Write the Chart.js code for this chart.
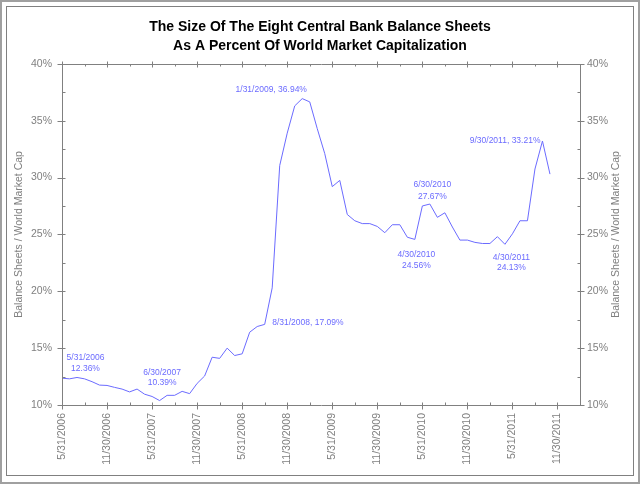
<!DOCTYPE html>
<html><head><meta charset="utf-8">
<script src="https://cdn.jsdelivr.net/npm/chart.js@4/dist/chart.umd.min.js"></script>
<style>html,body{margin:0;padding:0;background:#fff}canvas{display:block}</style>
</head><body>
<canvas id="c" width="640" height="484"></canvas>
<script>
// ---- data ----
const titleLines = ['The Size Of The Eight Central Bank Balance Sheets', 'As A Percent Of World Market Capitalization'];
const axisTitle = 'Balance Sheets / World Market Cap';
// month-end dates of each observation (5/31/2006 .. 10/31/2011)
const dates = [
 '5/31/2006','6/30/2006','7/31/2006','8/31/2006','9/30/2006','10/31/2006','11/30/2006','12/31/2006',
 '1/31/2007','2/28/2007','3/31/2007','4/30/2007','5/31/2007','6/30/2007','7/31/2007','8/31/2007',
 '9/30/2007','10/31/2007','11/30/2007','12/31/2007','1/31/2008','2/29/2008','3/31/2008','4/30/2008',
 '5/31/2008','6/30/2008','7/31/2008','8/31/2008','9/30/2008','10/31/2008','11/30/2008','12/31/2008',
 '1/31/2009','2/28/2009','3/31/2009','4/30/2009','5/31/2009','6/30/2009','7/31/2009','8/31/2009',
 '9/30/2009','10/31/2009','11/30/2009','12/31/2009','1/31/2010','2/28/2010','3/31/2010','4/30/2010',
 '5/31/2010','6/30/2010','7/31/2010','8/31/2010','9/30/2010','10/31/2010','11/30/2010','12/31/2010',
 '1/31/2011','2/28/2011','3/31/2011','4/30/2011','5/31/2011','6/30/2011','7/31/2011','8/31/2011',
 '9/30/2011','10/31/2011'
];
const values = [
 12.36,12.30,12.42,12.30,12.05,11.75,11.72,11.55,
 11.40,11.15,11.40,10.95,10.75,10.39,10.85,10.85,
 11.20,11.00,11.90,12.55,14.20,14.10,15.00,14.35,
 14.50,16.40,16.90,17.09,20.30,31.05,33.90,36.30,
 36.94,36.65,34.30,32.10,29.20,29.75,26.75,26.20,
 25.95,25.95,25.70,25.15,25.85,25.85,24.75,24.56,
 27.50,27.67,26.50,26.90,25.65,24.50,24.50,24.30,
 24.20,24.20,24.80,24.13,25.05,26.20,26.20,30.75,
 33.21,30.30
];
const xTickLabels = ['5/31/2006','11/30/2006','5/31/2007','11/30/2007','5/31/2008','11/30/2008',
 '5/31/2009','11/30/2009','5/31/2010','11/30/2010','5/31/2011','11/30/2011'];
const yMin = 10, yMax = 40, yStep = 5;
// annotated observations (index into dates/values)
const annotatedIdx = [0, 13, 27, 32, 47, 49, 59, 64];

// ---- styling / placement (not data) ----
const LINE = '#6b6bff';
const GRAY = '#808080';
const FONT = "'Liberation Sans', Arial, sans-serif";
const annStyle = {
  0:  {dx: 23.5, dy: -20.5, align: 'center', two: true, gap: 11},
  13: {dx: 2.5,  dy: -28.3, align: 'center', two: true, gap: 10.5},
  27: {dx: 7.5,  dy: -2,    align: 'left',   two: false},
  32: {dx: -31,  dy: -8.7,  align: 'center', two: false},
  47: {dx: 1.5,  dy: 15,    align: 'center', two: true, gap: 11},
  49: {dx: 2.5,  dy: -19,   align: 'center', two: true, gap: 12},
  59: {dx: 6.5,  dy: 13,    align: 'center', two: true, gap: 10.7},
  64: {dx: -2,   dy: -0.6,  align: 'right',  two: false}
};
const fmtPct = v => v.toFixed(2) + '%';

const points = values.map((v, i) => ({x: i, y: v}));

const framePlugin = {
  id: 'frame',
  beforeDraw(chart) {
    const ctx = chart.ctx;
    ctx.save();
    ctx.fillStyle = '#fff';
    ctx.fillRect(0, 0, chart.width, chart.height);
    ctx.strokeStyle = '#a0a0a0';
    ctx.lineWidth = 2;
    ctx.strokeRect(1, 1, chart.width - 2, chart.height - 2);
    ctx.strokeStyle = GRAY;
    ctx.lineWidth = 1;
    ctx.strokeRect(6.5, 6.5, 627, 469);
    ctx.restore();
  }
};

const ticksPlugin = {
  id: 'customTicks',
  afterDraw(chart) {
    const ctx = chart.ctx;
    const xs = chart.scales.x, ys = chart.scales.y;
    const a = chart.chartArea;
    ctx.save();
    ctx.strokeStyle = GRAY;
    ctx.lineWidth = 1;
    const L = Math.round(a.left) + 0.5, R = Math.round(a.right) + 0.5;
    const T = Math.round(a.top) + 0.5, B = Math.round(a.bottom) + 0.5;
    ctx.beginPath();
    ctx.moveTo(L, T); ctx.lineTo(R, T);
    ctx.moveTo(L, B); ctx.lineTo(R, B);
    ctx.moveTo(L, T); ctx.lineTo(L, B);
    ctx.moveTo(R, T); ctx.lineTo(R, B);
    for (let m = 0; m <= xs.max; m += 3) {
      const px = Math.round(xs.getPixelForValue(m)) + 0.5;
      const major = m % 6 === 0;
      ctx.moveTo(px, B - 3); ctx.lineTo(px, major ? B + 4 : B);
      ctx.moveTo(px, T + (major ? 3 : 2)); ctx.lineTo(px, major ? T - 3 : T);
    }
    for (let v = yMin; v <= yMax + 0.001; v += yStep / 2) {
      const py = Math.round(ys.getPixelForValue(v)) + 0.5;
      const major = Math.abs((v - yMin) % yStep) < 0.001;
      ctx.moveTo(major ? L - 5 : L, py); ctx.lineTo(L + 3, py);
      ctx.moveTo(R - 3, py); ctx.lineTo(major ? R + 4 : R, py);
    }
    ctx.stroke();
    // right axis title, reading bottom-to-top like the left one
    const y2 = chart.scales.y2;
    ctx.fillStyle = GRAY;
    ctx.font = '10.5px ' + FONT;
    ctx.textAlign = 'center';
    ctx.textBaseline = 'middle';
    ctx.translate(y2.right - 24, (a.top + a.bottom) / 2);
    ctx.rotate(-Math.PI / 2);
    ctx.fillText(axisTitle, 0, 0);
    ctx.restore();
  }
};

const annPlugin = {
  id: 'annotations',
  afterDatasetsDraw(chart) {
    const ctx = chart.ctx;
    const xs = chart.scales.x, ys = chart.scales.y;
    ctx.save();
    ctx.fillStyle = LINE;
    ctx.font = '8.5px ' + FONT;
    ctx.textBaseline = 'middle';
    annotatedIdx.forEach(i => {
      const s = annStyle[i];
      const px = xs.getPixelForValue(i) + s.dx;
      const py = ys.getPixelForValue(values[i]) + s.dy;
      ctx.textAlign = s.align;
      if (s.two) {
        ctx.fillText(dates[i], px, py);
        ctx.fillText(fmtPct(values[i]), px, py + s.gap);
      } else {
        ctx.fillText(dates[i] + ', ' + fmtPct(values[i]), px, py);
      }
    });
    ctx.restore();
  }
};

const yTicks = {
  stepSize: yStep, color: GRAY,
  font: {family: FONT, size: 10.5},
  callback: v => v + '%'
};

new Chart(document.getElementById('c'), {
  type: 'line',
  data: {
    datasets: [{
      data: points,
      borderColor: LINE,
      borderWidth: 1,
      pointRadius: 0,
      tension: 0,
      fill: false,
      yAxisID: 'y'
    }]
  },
  options: {
    responsive: false,
    animation: false,
    devicePixelRatio: 1,
    layout: {padding: 0},
    plugins: {
      legend: {display: false},
      tooltip: {enabled: false},
      title: {
        display: true,
        text: titleLines,
        color: '#000',
        font: {family: FONT, size: 14, weight: 'bold', lineHeight: 1.35},
        padding: {top: 17.5, bottom: 8.5}
      }
    },
    scales: {
      x: {
        type: 'linear', min: 0, max: 69,
        grid: {display: false, drawTicks: false},
        border: {display: false},
        ticks: {
          stepSize: 6, color: GRAY, padding: 8,
          minRotation: 90, maxRotation: 90, autoSkip: false,
          font: {family: FONT, size: 10.5},
          callback: v => xTickLabels[v / 6] || ''
        },
        afterFit: s => { s.height = 79; }
      },
      y: {
        position: 'left', min: yMin, max: yMax,
        grid: {display: false, drawTicks: false},
        border: {display: false},
        ticks: Object.assign({padding: 10}, yTicks),
        title: {display: true, text: axisTitle, color: GRAY,
          font: {family: FONT, size: 10.5}, padding: {top: 13, bottom: 0}},
        afterFit: s => { s.width = 62; }
      },
      y2: {
        position: 'right', min: yMin, max: yMax,
        grid: {display: false, drawTicks: false},
        border: {display: false},
        ticks: Object.assign({padding: 7}, yTicks),
        afterFit: s => { s.width = 60; }
      }
    }
  },
  plugins: [framePlugin, ticksPlugin, annPlugin]
});
</script>
</body></html>
